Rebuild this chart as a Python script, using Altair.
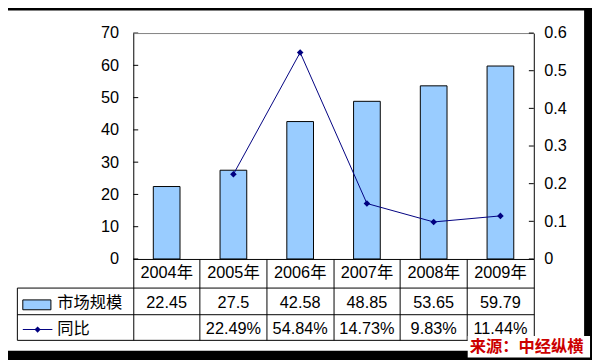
import altair as alt
import pandas as pd

# ---- data ----
years = ["2004年", "2005年", "2006年", "2007年", "2008年", "2009年"]
market = [22.45, 27.5, 42.58, 48.85, 53.65, 59.79]
yoy_pct = [None, 22.49, 54.84, 14.73, 9.83, 11.44]
left_ticks = [0, 10, 20, 30, 40, 50, 60, 70]
right_ticks = [0, 0.1, 0.2, 0.3, 0.4, 0.5, 0.6]
series_names = ["市场规模", "同比"]
source_text = "来源：中经纵横"

# ---- style ----
W, H = 406, 229
FONT = "Liberation Sans, Noto Sans CJK SC"
FS = 16.5
BAR = "#99CCFF"
NAVY = "#000080"

bars_df = pd.DataFrame({"year": years, "market": market,
                        "label": [f"{v:g}" for v in market]})
line_df = pd.DataFrame({"year": [y for y, v in zip(years, yoy_pct) if v is not None],
                        "yoy": [v / 100 for v in yoy_pct if v is not None],
                        "label": [f"{v:.2f}%" for v in yoy_pct if v is not None]})
one = pd.DataFrame({"a": [0]})

X = alt.X("year:N", sort=years,
          scale=alt.Scale(domain=years, paddingInner=0.6, paddingOuter=0.3),
          axis=None)
YL = alt.Y("market:Q", scale=alt.Scale(domain=[0, 70], nice=False, zero=True),
           axis=alt.Axis(values=left_ticks, format="d", title=None, ticks=False,
                         tickSize=0, labelPadding=15, grid=False, orient="left",
                         domainColor="black", labelBound=False, labelOverlap=False,
                         zindex=1))
YR = alt.Y("yoy:Q", scale=alt.Scale(domain=[0, 0.6], nice=False, zero=True),
           axis=alt.Axis(values=right_ticks, format="~g", title=None, ticks=False,
                         tickSize=0, labelPadding=10, grid=False, orient="right",
                         domainColor="black", labelBound=False, labelOverlap=False,
                         zindex=1))


def rect(x, x2, y, y2, fill, stroke=None):
    kw = dict(fill=fill)
    if stroke:
        kw.update(stroke=stroke, strokeWidth=1)
    return alt.Chart(one).mark_rect(**kw).encode(
        x=alt.value(x), x2=alt.value(x2), y=alt.value(y), y2=alt.value(y2))


def hline(x, x2, y, color="black"):
    return alt.Chart(one).mark_rule(color=color, strokeWidth=1).encode(
        x=alt.value(x), x2=alt.value(x2), y=alt.value(y))


def vline(x, y, y2, color="black"):
    return alt.Chart(one).mark_rule(color=color, strokeWidth=1).encode(
        x=alt.value(x), y=alt.value(y), y2=alt.value(y2))


def label(txt, x, y, align="left", color="black", weight="normal"):
    return alt.Chart(one).mark_text(text=txt, align=align, baseline="alphabetic",
                                    font=FONT, fontSize=FS, color=color,
                                    fontWeight=weight).encode(
        x=alt.value(x), y=alt.value(y))


layers = []
# white inner frame (background is black)
layers.append(rect(-127, 457, -23, 322, "white"))

# bars
layers.append(alt.Chart(bars_df).mark_bar(fill=BAR, stroke="black", strokeWidth=1)
              .encode(x=X, y=YL))
# inward ticks on left axis
layers.append(alt.Chart(pd.DataFrame({"market": left_ticks})).mark_rule(color="black")
              .encode(y=YL, x=alt.value(0), x2=alt.value(5)))

# plot top border
layers.append(hline(0, 406, 0.5, "#808080"))

# data table grid
col_w = W / 6
layers.append(hline(0, 406.5, 229.5))
for yy in [258.5, 285.5, 311.5]:
    layers.append(hline(-117.5, 406.5, yy))
for i in range(7):
    xx = int(i * col_w) + 0.5
    layers.append(vline(xx, 229.5, 311.5))
layers.append(vline(-117.5, 258.5, 311.5))

# table texts
layers.append(alt.Chart(bars_df).mark_text(baseline="alphabetic", font=FONT, fontSize=FS,
                                           color="black")
              .encode(x=X, y=alt.value(248), text="year:N"))
layers.append(alt.Chart(bars_df).mark_text(baseline="alphabetic", font=FONT, fontSize=FS,
                                           color="black")
              .encode(x=X, y=alt.value(279), text="label:N"))
layers.append(alt.Chart(line_df).mark_text(baseline="alphabetic", font=FONT, fontSize=FS,
                                           color="black")
              .encode(x=X, y=alt.value(305), text="label:N"))

# legend keys in table
layers.append(rect(-112, -83.5, 270.5, 280.5, BAR, "black"))
layers.append(label(series_names[0], -77, 279))
layers.append(hline(-112, -82, 300.5, NAVY))
layers.append(alt.Chart(one).mark_point(shape="diamond", filled=True, size=40,
                                        color=NAVY, opacity=1)
              .encode(x=alt.value(-97), y=alt.value(300.5)))
layers.append(label(series_names[1], -77, 305))

# source box
layers.append(rect(339, 463, 307, 329, "white"))
layers.append(label(source_text, 341, 323, color="#cc0000", weight="bold"))

left = alt.layer(*layers)

right = alt.layer(
    alt.Chart(line_df).mark_line(color=NAVY, strokeWidth=1).encode(x=X, y=YR),
    alt.Chart(line_df).mark_point(shape="diamond", filled=True, size=45, color=NAVY,
                                  opacity=1).encode(x=X, y=YR),
    alt.Chart(pd.DataFrame({"yoy": right_ticks})).mark_rule(color="black")
    .encode(y=YR, x=alt.value(401), x2=alt.value(406)),
)

chart = (alt.layer(left, right)
         .resolve_scale(y="independent")
         .properties(width=W, height=H, background="black",
                     padding={"left": 127, "top": 23, "right": 59, "bottom": 100},
                     autosize=alt.AutoSizeParams(type="none"))
         .configure_view(stroke=None)
         .configure_axis(labelFont=FONT, labelFontSize=FS, labelColor="black",
                         domainColor="black", domainWidth=1))

chart.save("out.html", embed_options={"renderer": "svg", "actions": False})
